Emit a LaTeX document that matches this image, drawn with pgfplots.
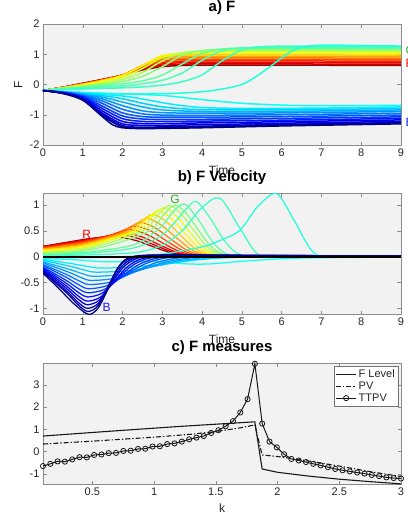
\documentclass[border=0pt]{standalone}
\usepackage{fontspec}
\setmainfont{Liberation Sans}
\usepackage{pgfplots}
\pgfplotsset{compat=1.18}
\definecolor{u1}{rgb}{0.62,0,0}
\definecolor{u2}{rgb}{0.79,0,0}
\definecolor{u3}{rgb}{0.96,0,0}
\definecolor{u4}{rgb}{1,0.13,0}
\definecolor{u5}{rgb}{1,0.30,0}
\definecolor{u6}{rgb}{1,0.47,0}
\definecolor{u7}{rgb}{1,0.64,0}
\definecolor{u8}{rgb}{1,0.80,0}
\definecolor{u9}{rgb}{1,0.97,0}
\definecolor{u10}{rgb}{0.86,1,0.14}
\definecolor{u11}{rgb}{0.69,1,0.31}
\definecolor{u12}{rgb}{0.52,1,0.48}
\definecolor{u13}{rgb}{0.38,1,0.62}
\definecolor{u14}{rgb}{0.30,1,0.70}
\definecolor{u15}{rgb}{0.22,1,0.78}
\definecolor{u16}{rgb}{0.14,1,0.86}
\definecolor{d1}{rgb}{0.06,1,0.94}
\definecolor{d2}{rgb}{0,0.94,1}
\definecolor{d3}{rgb}{0,0.82,1}
\definecolor{d4}{rgb}{0,0.70,1}
\definecolor{d5}{rgb}{0,0.58,1}
\definecolor{d6}{rgb}{0,0.46,1}
\definecolor{d7}{rgb}{0,0.34,1}
\definecolor{d8}{rgb}{0,0.22,1}
\definecolor{d9}{rgb}{0,0.10,1}
\definecolor{d10}{rgb}{0,0,0.98}
\definecolor{d11}{rgb}{0,0,0.86}
\definecolor{d12}{rgb}{0,0,0.74}
\definecolor{d13}{rgb}{0,0,0.62}
\definecolor{d14}{rgb}{0,0,0.50}
\definecolor{labG}{rgb}{0.2,0.68,0.2}
\definecolor{labB}{rgb}{0.1,0.1,0.95}
\pgfplotsset{
  myax/.style={
    scale only axis, width=358pt, height=121pt,
    axis background/.style={fill=black!5},
    axis line style={black!45, line width=0.5pt},
    tick style={black!45, line width=0.5pt},
    major tick length=3.5pt,
    tick align=inside,
    ticklabel style={font=\fontsize{11}{13}\selectfont, text=black!85},
    /pgf/number format/assume math mode=true,
    label style={font=\fontsize{12}{14}\selectfont, text=black!85},
    title style={font=\fontsize{15}{17}\selectfont\bfseries, at={(axis description cs:0.5,1.083)}, anchor=center},
    xlabel style={at={(axis description cs:0.5,-0.207)}, anchor=center},
  },
  cv/.style={smooth, line width=1.5pt},
  cw/.style={smooth, line width=1.25pt},
}
\begin{document}
\begin{tikzpicture}
\useasboundingbox (0pt,0pt) rectangle (407pt,-513pt);
% ---------------- a) F ----------------
\begin{axis}[myax, at={(43pt,-145pt)}, anchor=south west,
  xmin=0, xmax=9, ymin=-2, ymax=2, xtick={0,1,2,3,4,5,6,7,8,9}, ytick={-2,-1,0,1,2},
  title={a) F}, xlabel={Time}, ylabel={F},
  ylabel style={at={(axis description cs:-0.069,0.5)}, anchor=center}]
\addplot[u1,cv] coordinates {(0,-0.2)(0.5,-0.09)(1,0.04)(1.5,0.17)(2,0.31)(2.5,0.48)(3,0.59)(3.5,0.63)(4,0.64)(6,0.64)(9,0.63)};
\addplot[u2,cv] coordinates {(0,-0.2)(0.5,-0.09)(1,0.035)(1.5,0.165)(2,0.31)(2.5,0.52)(3,0.635)(3.5,0.672)(4,0.68)(6,0.68)(9,0.67)};
\addplot[u3,cv] coordinates {(0,-0.2)(0.5,-0.095)(1,0.03)(1.5,0.16)(2,0.31)(2.5,0.55)(3,0.68)(3.5,0.72)(4,0.73)(6,0.73)(9,0.72)};
\addplot[u4,cv] coordinates {(0,-0.2)(0.5,-0.095)(1,0.025)(1.5,0.155)(2,0.31)(2.5,0.58)(3,0.73)(3.5,0.77)(4,0.78)(6,0.78)(9,0.77)};
\addplot[u5,cv] coordinates {(0,-0.2)(0.5,-0.1)(1,0.02)(1.5,0.15)(2,0.31)(2.5,0.6)(3,0.78)(3.5,0.82)(4,0.83)(6,0.83)(9,0.82)};
\addplot[u6,cv] coordinates {(0,-0.2)(0.5,-0.1)(1,0.015)(1.5,0.145)(2,0.31)(2.5,0.62)(3,0.83)(3.5,0.87)(4,0.88)(6,0.88)(9,0.87)};
\addplot[u7,cv] coordinates {(0,-0.2)(0.5,-0.105)(1,0.01)(1.5,0.14)(2,0.31)(2.5,0.63)(3,0.88)(3.5,0.92)(4,0.93)(6,0.93)(9,0.92)};
\addplot[u8,cv] coordinates {(0,-0.2)(0.5,-0.105)(1,0.0)(1.5,0.13)(2,0.3)(2.5,0.63)(3,0.93)(3.5,0.97)(4,0.98)(6,0.98)(9,0.97)};
\addplot[u9,cv] coordinates {(0,-0.2)(0.5,-0.11)(1,-0.01)(1.5,0.12)(2,0.29)(2.5,0.62)(3,0.96)(3.5,1.02)(4,1.03)(6,1.03)(9,1.02)};
\addplot[u10,cv] coordinates {(0,-0.2)(0.5,-0.115)(1,-0.03)(1.5,0.08)(2,0.24)(2.5,0.53)(3,0.9)(3.5,1.05)(4,1.08)(6,1.08)(9,1.07)};
\addplot[u11,cv] coordinates {(0,-0.2)(0.5,-0.12)(1,-0.05)(1.5,0.04)(2,0.17)(2.5,0.4)(3,0.78)(3.5,1.05)(4,1.11)(4.5,1.12)(6,1.12)(9,1.11)};
\addplot[u12,cv] coordinates {(0,-0.2)(0.5,-0.125)(1,-0.07)(1.5,0.0)(2,0.1)(2.5,0.27)(3,0.59)(3.5,0.97)(4,1.12)(4.5,1.16)(6,1.16)(9,1.15)};
\addplot[u13,cv] coordinates {(0,-0.2)(0.5,-0.13)(1,-0.09)(1.5,-0.04)(2,0.02)(2.5,0.12)(3,0.31)(3.5,0.68)(4,1.03)(4.5,1.17)(5,1.2)(7,1.2)(9,1.19)};
\addplot[u14,cv] coordinates {(0,-0.2)(0.5,-0.14)(1,-0.12)(1.5,-0.09)(2,-0.05)(2.5,0.02)(3,0.14)(3.5,0.38)(4,0.8)(4.5,1.12)(5,1.21)(6,1.23)(9,1.22)};
\addplot[u15,cv] coordinates {(0,-0.2)(0.5,-0.16)(1,-0.15)(1.5,-0.13)(2,-0.11)(2.5,-0.08)(3,-0.02)(3.5,0.09)(4,0.32)(4.5,0.78)(5,1.14)(5.5,1.25)(6.5,1.27)(9,1.26)};
\addplot[u16,cv] coordinates {(0,-0.2)(0.5,-0.23)(1,-0.27)(1.5,-0.3)(2,-0.31)(3,-0.3)(3.5,-0.28)(4,-0.24)(4.5,-0.15)(5,0.0)(5.33,0.24)(5.67,0.55)(6,0.88)(6.25,1.1)(6.5,1.23)(7,1.3)(8,1.29)(9,1.27)};
\addplot[d1,cv] coordinates {(0,-0.2)(0.5,-0.23)(1,-0.26)(2,-0.31)(3,-0.36)(4,-0.5)(5,-0.62)(6,-0.68)(7,-0.7)(9,-0.69)};
\addplot[d2,cv] coordinates {(0,-0.2)(0.5,-0.235)(1,-0.28)(2,-0.38)(2.5,-0.48)(3,-0.6)(3.5,-0.7)(4,-0.76)(5,-0.79)(7,-0.78)(9,-0.74)};
\addplot[d3,cv] coordinates {(0,-0.2)(0.5,-0.24)(1,-0.30)(1.5,-0.37)(2,-0.47)(2.5,-0.62)(3,-0.74)(3.5,-0.8)(4,-0.83)(6,-0.84)(9,-0.79)};
\addplot[d4,cv] coordinates {(0,-0.2)(0.5,-0.245)(1,-0.32)(1.5,-0.42)(2,-0.58)(2.5,-0.74)(3,-0.84)(4,-0.89)(6,-0.89)(9,-0.84)};
\addplot[d5,cv] coordinates {(0,-0.2)(0.5,-0.25)(1,-0.34)(1.5,-0.48)(2,-0.7)(2.5,-0.87)(3,-0.93)(4,-0.95)(6,-0.94)(9,-0.89)};
\addplot[d6,cv] coordinates {(0,-0.2)(0.5,-0.255)(1,-0.36)(1.5,-0.55)(2,-0.82)(2.5,-0.97)(3,-1.01)(4,-1.02)(6,-1.0)(9,-0.95)};
\addplot[d7,cv] coordinates {(0,-0.2)(0.5,-0.26)(1,-0.38)(1.5,-0.63)(2,-0.94)(2.5,-1.06)(3,-1.08)(4,-1.08)(6,-1.06)(9,-1.01)};
\addplot[d8,cv] coordinates {(0,-0.2)(0.5,-0.265)(1,-0.40)(1.5,-0.72)(2,-1.04)(2.5,-1.14)(3,-1.15)(4,-1.15)(6,-1.12)(9,-1.07)};
\addplot[d9,cv] coordinates {(0,-0.2)(0.5,-0.27)(1,-0.42)(1.5,-0.8)(2,-1.13)(2.5,-1.22)(3,-1.22)(4,-1.21)(6,-1.18)(9,-1.12)};
\addplot[d10,cv] coordinates {(0,-0.2)(0.5,-0.275)(1,-0.45)(1.5,-0.88)(2,-1.22)(2.5,-1.29)(3,-1.29)(4,-1.27)(6,-1.23)(9,-1.17)};
\addplot[d11,cv] coordinates {(0,-0.2)(0.5,-0.28)(1,-0.47)(1.5,-0.95)(2,-1.3)(2.5,-1.35)(3,-1.35)(4,-1.33)(6,-1.28)(9,-1.22)};
\addplot[d12,cv] coordinates {(0,-0.2)(0.5,-0.285)(1,-0.49)(1.5,-1.0)(2,-1.36)(2.5,-1.41)(3,-1.4)(4,-1.38)(6,-1.32)(9,-1.26)};
\addplot[d13,cv] coordinates {(0,-0.2)(0.5,-0.29)(1,-0.5)(1.5,-1.04)(2,-1.4)(2.5,-1.44)(3,-1.43)(4,-1.41)(6,-1.35)(9,-1.28)};
\addplot[d14,cv] coordinates {(0,-0.2)(0.5,-0.3)(1,-0.52)(1.5,-1.07)(1.75,-1.33)(2,-1.43)(2.5,-1.46)(3,-1.45)(4,-1.43)(6,-1.37)(9,-1.30)};
\end{axis}
\node[anchor=west, inner sep=0pt, text=labG, font=\fontsize{12}{14}\selectfont] at (405.5pt,-50pt) {G};
\node[anchor=west, inner sep=0pt, text=red, font=\fontsize{12}{14}\selectfont] at (405.5pt,-63pt) {R};
\node[anchor=west, inner sep=0pt, text=labB, font=\fontsize{12}{14}\selectfont] at (405.5pt,-122pt) {B};
% ---------------- b) F Velocity ----------------
\begin{axis}[myax, at={(43pt,-314.3pt)}, anchor=south west,
  xmin=0, xmax=9, ymin=-1.115, ymax=1.226, xtick={0,1,2,3,4,5,6,7,8,9}, ytick={-1,-0.5,0,0.5,1},
  title={b) F Velocity}, xlabel={Time}]
\addplot[u1,cw] coordinates {(0,.20)(1,.33)(1.3,.36)(1.6,.375)(1.9,.38)(2.34,.312)(2.78,.19)(3.21,.076)(3.65,.019)(4.2,0)(9,0)};
\addplot[u2,cw] coordinates {(0,.195)(1,.32)(1.4,.37)(1.7,.405)(2.0,.42)(2.425,.344)(2.85,.21)(3.275,.084)(3.7,.021)(4.3,0)(9,0)};
\addplot[u3,cw] coordinates {(0,.19)(1,.31)(1.5,.38)(1.8,.43)(2.1,.46)(2.51,.377)(2.925,.23)(3.34,.092)(3.75,.023)(4.35,0)(9,0)};
\addplot[u4,cw] coordinates {(0,.18)(1,.295)(1.62,.40)(1.92,.475)(2.22,.52)(2.62,.426)(3.02,.26)(3.42,.104)(3.82,.026)(4.4,0)(9,0)};
\addplot[u5,cw] coordinates {(0,.17)(1,.28)(1.75,.42)(2.05,.52)(2.35,.59)(2.74,.484)(3.125,.295)(3.51,.118)(3.9,.03)(4.5,0)(9,0)};
\addplot[u6,cw] coordinates {(0,.16)(1,.26)(1.88,.44)(2.18,.57)(2.48,.66)(2.855,.541)(3.23,.33)(3.605,.132)(3.98,.033)(4.6,0)(9,0)};
\addplot[u7,cw] coordinates {(0,.15)(1,.24)(2.02,.46)(2.32,.62)(2.62,.74)(2.98,.607)(3.345,.37)(3.71,.148)(4.07,.037)(4.7,0)(9,0)};
\addplot[u8,cw] coordinates {(0,.135)(1,.22)(2.16,.48)(2.46,.67)(2.76,.82)(3.11,.672)(3.46,.41)(3.81,.164)(4.16,.041)(4.8,0)(9,0)};
\addplot[u9,cw] coordinates {(0,.12)(1,.195)(1.65,.33)(2.3,.50)(2.6,.72)(2.9,.89)(3.24,.73)(3.575,.445)(3.91,.178)(4.25,.045)(4.85,0)(9,0)};
\addplot[u10,cw] coordinates {(0,.10)(1,.17)(1.7,.32)(2.44,.52)(2.74,.77)(3.04,.95)(3.365,.779)(3.69,.475)(4.015,.19)(4.34,.048)(4.95,0)(9,0)};
\addplot[u11,cw] coordinates {(0,.08)(1,.14)(1.8,.30)(2.58,.53)(2.88,.80)(3.18,.99)(3.49,.812)(3.805,.495)(4.12,.198)(4.43,.05)(5.0,0)(9,0)};
\addplot[u12,cw] coordinates {(0,.06)(1,.11)(1.9,.27)(2.72,.52)(3.02,.80)(3.32,1.0)(3.62,.82)(3.92,.5)(4.22,.2)(4.52,.05)(5.1,0)(9,0)};
\addplot[u13,cw] coordinates {(0,.04)(1,.08)(2,.18)(2.5,.30)(3.0,.60)(3.25,.85)(3.55,1.02)(3.9,.72)(4.25,.30)(4.6,.06)(5.2,0)(9,0)};
\addplot[u14,cw] coordinates {(0,.02)(1,.06)(2,.13)(2.5,.22)(3.0,.42)(3.3,.65)(3.6,.92)(3.85,1.07)(4.2,.75)(4.55,.32)(4.9,.06)(5.5,0)(9,0)};
\addplot[u15,cw] coordinates {(0,0)(1,.03)(2,.06)(2.5,.10)(3,.22)(3.5,.50)(4.0,.95)(4.45,1.13)(4.95,.55)(5.4,.05)(6,0)(9,0)};
\addplot[u16,cw] coordinates {(0,-.02)(1,-.02)(2,0)(3,.05)(4,.19)(4.5,.33)(4.95,.51)(5.4,.97)(5.87,1.22)(6.3,.72)(6.6,.30)(6.85,.05)(7.3,0)(9,0)};
\addplot[d1,cw] coordinates {(0,-0.03)(0.8,-0.06)(1.6,-0.1)(2.4,-0.09)(3,-0.1)(3.6,-0.14)(4.2,-0.14)(5,-0.09)(6,-0.04)(7,-0.02)(9,-0.01)};
\addplot[d2,cw] coordinates {(0,-0.05)(0.725,-0.135)(1.16,-0.195)(1.45,-0.22)(2.325,-0.198)(3.2,-0.121)(4.075,-0.048)(4.95,-0.011)(6,-0.01)(9,-0.005)};
\addplot[d3,cw] coordinates {(0,-0.07)(0.675,-0.185)(1.08,-0.266)(1.35,-0.3)(2.15,-0.27)(2.95,-0.165)(3.75,-0.066)(4.55,-0.015)(5.5,-0.005)(7,0.0)(9,0.003)};
\addplot[d4,cw] coordinates {(0,-0.1)(0.64,-0.24)(1.024,-0.338)(1.28,-0.38)(1.98,-0.342)(2.68,-0.209)(3.38,-0.084)(4.08,-0.019)(4.8,-0.004)(5.8,0.008)(9,0.005)};
\addplot[d5,cw] coordinates {(0,-0.12)(0.61,-0.29)(0.976,-0.409)(1.22,-0.46)(1.845,-0.414)(2.47,-0.253)(3.095,-0.101)(3.72,-0.023)(4.4,-0.002)(5.2,0.012)(9,0.006)};
\addplot[d6,cw] coordinates {(0,-0.15)(0.59,-0.345)(0.944,-0.482)(1.18,-0.54)(1.73,-0.486)(2.28,-0.297)(2.83,-0.119)(3.38,-0.027)(4,0.0)(4.8,0.015)(6,0.013)(9,0.008)};
\addplot[d7,cw] coordinates {(0,-0.17)(0.575,-0.395)(0.92,-0.553)(1.15,-0.62)(1.625,-0.558)(2.1,-0.341)(2.575,-0.136)(3.05,-0.031)(3.6,0.002)(4.3,0.018)(6,0.015)(9,0.01)};
\addplot[d8,cw] coordinates {(0,-0.2)(0.565,-0.45)(0.904,-0.625)(1.13,-0.7)(1.555,-0.63)(1.98,-0.385)(2.405,-0.154)(2.83,-0.035)(3.3,0.004)(4,0.022)(5.5,0.018)(9,0.012)};
\addplot[d9,cw] coordinates {(0,-0.22)(0.56,-0.5)(0.896,-0.696)(1.12,-0.78)(1.495,-0.702)(1.87,-0.429)(2.245,-0.172)(2.62,-0.039)(3.1,0.006)(3.8,0.024)(5.5,0.02)(9,0.013)};
\addplot[d10,cw] coordinates {(0,-0.24)(0.56,-0.55)(0.896,-0.767)(1.12,-0.86)(1.46,-0.774)(1.795,-0.473)(2.13,-0.189)(2.47,-0.043)(2.9,0.008)(3.6,0.026)(5,0.022)(9,0.014)};
\addplot[d11,cw] coordinates {(0,-0.26)(0.56,-0.595)(0.896,-0.83)(1.12,-0.93)(1.42,-0.837)(1.72,-0.512)(2.02,-0.205)(2.32,-0.047)(2.7,0.01)(3.5,0.028)(5,0.023)(9,0.014)};
\addplot[d12,cw] coordinates {(0,-0.28)(0.56,-0.64)(0.896,-0.892)(1.12,-1.0)(1.395,-0.9)(1.67,-0.55)(1.945,-0.22)(2.22,-0.05)(2.6,0.012)(3.4,0.03)(5,0.024)(9,0.015)};
\addplot[d13,cw] coordinates {(0,-0.30)(0.565,-0.68)(0.904,-0.946)(1.13,-1.06)(1.38,-0.954)(1.63,-0.583)(1.88,-0.233)(2.13,-0.053)(2.5,0.015)(3.3,0.033)(5,0.025)(9,0.015)};
\addplot[d14,cw] coordinates {(0,-0.32)(0.43,-0.64)(0.76,-0.9)(1.14,-1.115)(1.38,-1.0)(1.6,-0.68)(1.83,-0.28)(2.06,-0.06)(2.4,0.02)(3.2,0.035)(5,0.025)(9,0.015)};
\addplot[black, line width=1.7pt] coordinates {(0,0)(9,0)};
\node[text=red, font=\fontsize{12}{14}\selectfont] at (axis cs:1.1,0.44) {R};
\node[text=labG, font=\fontsize{12}{14}\selectfont] at (axis cs:3.32,1.1) {G};
\node[text=labB, font=\fontsize{12}{14}\selectfont] at (axis cs:1.6,-0.99) {B};
\end{axis}
% ---------------- c) F measures ----------------
\begin{axis}[myax, at={(43pt,-484.3pt)}, anchor=south west, clip=false,
  xmin=0.1, xmax=3, ymin=-1.47, ymax=3.97, xtick={0.5,1,1.5,2,2.5,3}, ytick={-1,0,1,2,3},
  title={c) F measures}, xlabel={k},
  xlabel style={at={(axis description cs:0.5,-0.196)}, anchor=center},
  legend cell align=left,
  legend style={at={(axis description cs:0.993,0.975)}, anchor=north east, draw=black!55, fill=white,
    font=\fontsize{11}{12}\selectfont, text=black!85, inner sep=1.5pt, row sep=-1.5pt},
  legend image code/.code={\draw[mark repeat=2,mark phase=2,#1] plot coordinates {(0pt,0pt) (10pt,0pt) (20pt,0pt)};}]
\addplot[black!90, line width=1.1pt] coordinates {(0.1,0.70)(0.6,0.90)(1.2,1.13)(1.816,1.34)(1.875,-0.78)(2.0,-0.93)(2.25,-1.1)(2.5,-1.24)(2.75,-1.35)(3.0,-1.45)};
\addlegendentry{F Level}
\addplot[black!90, line width=1.1pt, dash pattern=on 5pt off 2pt on 1.3pt off 2pt] coordinates {(0.1,0.34)(0.5,0.47)(1.0,0.65)(1.3,0.78)(1.5,0.9)(1.7,1.07)(1.816,1.2)(1.875,-0.15)(2.0,-0.22)(2.25,-0.42)(2.5,-0.65)(2.75,-0.9)(3.0,-1.12)};
\addlegendentry{PV}
\addplot[black!90, line width=1pt, mark=o, mark size=2.6pt, mark options={solid, line width=0.8pt}] coordinates {
(0.1000,-0.65)(0.1592,-0.55)(0.2184,-0.44)(0.2776,-0.45)(0.3367,-0.35)(0.3959,-0.25)(0.4551,-0.26)(0.5143,-0.15)(0.5735,-0.13)(0.6327,-0.07)
(0.6918,-0.06)(0.7510,0.03)(0.8102,0.04)(0.8694,0.12)(0.9286,0.13)(0.9878,0.23)(1.0469,0.24)(1.1061,0.34)(1.1653,0.37)(1.2245,0.45)
(1.2837,0.55)(1.3429,0.63)(1.4020,0.70)(1.4612,0.84)(1.5204,0.96)(1.5796,1.14)(1.6388,1.37)(1.6980,1.76)(1.7571,2.36)(1.8163,3.95)
(1.8755,1.26)(1.9347,0.45)(1.9939,0.19)(2.0531,-0.12)(2.1122,-0.33)(2.1714,-0.40)(2.2306,-0.47)(2.2898,-0.55)(2.3490,-0.62)(2.4082,-0.70)
(2.4673,-0.78)(2.5265,-0.84)(2.5857,-0.89)(2.6449,-0.94)(2.7041,-0.99)(2.7633,-1.05)(2.8224,-1.10)(2.8816,-1.16)(2.9408,-1.19)(3.0000,-1.21)};
\addlegendentry{TTPV}
\end{axis}
\end{tikzpicture}
\end{document}
